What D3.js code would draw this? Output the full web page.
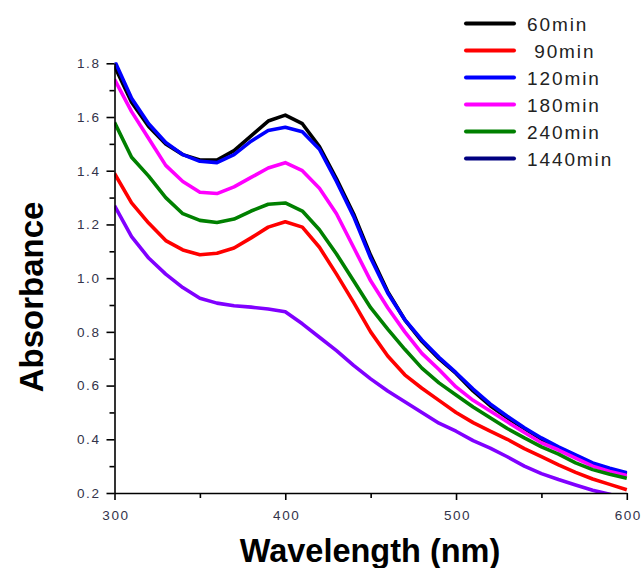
<!DOCTYPE html>
<html>
<head>
<meta charset="utf-8">
<script src="https://cdn.jsdelivr.net/npm/d3@7"></script>
<style>
  body { margin: 0; background: #fff; }
  svg { display: block; font-family: "Liberation Sans", Arial, sans-serif; }
</style>
</head>
<body>
<svg id="chart" width="641" height="568"></svg>
<script>
// wavelength grid (nm)
var wavelengths = [300,310,320,330,340,350,360,370,380,390,400,410,420,430,440,450,
                   460,470,480,490,500,510,520,530,540,550,560,570,580,590,600];

// absorbance, one array per sampling time
var abs60   = [1.79,1.655,1.565,1.50,1.46,1.44,1.44,1.475,1.53,1.585,1.607,1.575,1.49,1.37,1.24,1.085,
               0.95,0.845,0.765,0.70,0.645,0.58,0.525,0.48,0.44,0.40,0.368,0.338,0.308,0.288,0.27];
var abs90   = [1.39,1.28,1.205,1.14,1.105,1.087,1.093,1.112,1.15,1.19,1.21,1.19,1.115,1.015,0.91,0.80,
               0.71,0.64,0.59,0.545,0.50,0.462,0.43,0.40,0.365,0.335,0.305,0.277,0.252,0.232,0.212];
var abs120  = [1.81,1.67,1.575,1.505,1.46,1.435,1.43,1.46,1.51,1.55,1.562,1.545,1.48,1.36,1.23,1.075,
               0.945,0.845,0.77,0.705,0.648,0.587,0.532,0.486,0.443,0.405,0.372,0.342,0.312,0.292,0.275];
var abs180  = [1.74,1.62,1.52,1.42,1.36,1.32,1.315,1.34,1.375,1.41,1.43,1.40,1.335,1.24,1.115,0.99,
               0.89,0.80,0.72,0.66,0.595,0.545,0.505,0.465,0.425,0.387,0.36,0.33,0.30,0.28,0.265];
var abs240  = [1.58,1.45,1.38,1.30,1.24,1.215,1.207,1.22,1.25,1.275,1.28,1.25,1.18,1.09,0.99,0.89,
               0.81,0.735,0.665,0.61,0.565,0.52,0.48,0.44,0.405,0.372,0.345,0.312,0.287,0.27,0.255];
var abs1440 = [1.27,1.155,1.075,1.015,0.965,0.925,0.907,0.897,0.892,0.885,0.875,0.83,0.78,0.73,0.675,0.625,
               0.58,0.54,0.50,0.46,0.43,0.395,0.367,0.335,0.30,0.272,0.25,0.23,0.21,0.195,0.18];

var seriesNames  = ["60min"," 90min","120min","180min","240min","1440min"];
var seriesValues = [abs60, abs90, abs120, abs180, abs240, abs1440];
var lineColors   = ["#000000","#ff0000","#0000ff","#ff00ff","#008000","#8000ff"];
var legendColors = ["#000000","#ff0000","#0000ff","#ff00ff","#008000","#000080"];

var xMajor = [300,400,500,600], xMinor = [350,450,550];
var yMajor = [0.2,0.4,0.6,0.8,1.0,1.2,1.4,1.6,1.8], yMinor = [0.3,0.5,0.7,0.9,1.1,1.3,1.5,1.7];

var svg = d3.select("#chart");
var plotL = 114.5, plotR = 626.8, plotT = 63.3, plotB = 493;

var x = d3.scaleLinear().domain([300,600]).range([plotL,plotR]);
var y = d3.scaleLinear().domain([0.2,1.8]).range([plotB,plotT]);

// clip region for curves
svg.append("defs").append("clipPath").attr("id","plotclip")
   .append("rect").attr("x",plotL).attr("y",plotT-1).attr("width",plotR-plotL+4).attr("height",plotB-plotT+1);

var line = d3.line()
    .x(function(d){return x(d[0]);})
    .y(function(d){return y(d[1]);});

var curves = svg.append("g").attr("clip-path","url(#plotclip)");
seriesValues.forEach(function(vals,i){
    var pts = wavelengths.map(function(w,j){return [w, vals[j]];});
    curves.append("path")
          .attr("d", line(pts))
          .attr("fill","none")
          .attr("stroke", lineColors[i])
          .attr("stroke-width",3.6)
          .attr("stroke-linejoin","round");
});

// axes
var tickColor = "#33334a";
function styleAxis(g){
    g.selectAll("path.domain").attr("stroke","#000").attr("stroke-width",1.6);
    g.selectAll(".tick line").attr("stroke","#000").attr("stroke-width",1.6);
}

var xAxisMinor = svg.append("g").attr("transform","translate(0,"+plotB+")")
    .call(d3.axisBottom(x).tickValues(xMinor).tickSize(5).tickFormat(""));
var xAxis = svg.append("g").attr("transform","translate(0,"+plotB+")")
    .call(d3.axisBottom(x).tickValues(xMajor).tickSize(7).tickSizeOuter(0).tickFormat(d3.format("d")));
styleAxis(xAxisMinor); styleAxis(xAxis);
xAxis.selectAll("text").attr("fill",tickColor).attr("font-size",13.5)
     .attr("letter-spacing",1.6).attr("dy",0).attr("y",27).attr("dx",1)
     .attr("font-family","'Liberation Sans', Arial, sans-serif");

var yAxisMinor = svg.append("g").attr("transform","translate("+plotL+",0)")
    .call(d3.axisLeft(y).tickValues(yMinor).tickSize(5).tickFormat(""));
var yAxis = svg.append("g").attr("transform","translate("+plotL+",0)")
    .call(d3.axisLeft(y).tickValues(yMajor).tickSize(8).tickSizeOuter(0).tickFormat(d3.format(".1f")));
styleAxis(yAxisMinor); styleAxis(yAxis);
yAxis.selectAll("text").attr("fill",tickColor).attr("font-size",13.5)
     .attr("letter-spacing",1.6).attr("x",-14)
     .attr("font-family","'Liberation Sans', Arial, sans-serif");
xAxisMinor.select("path.domain").remove();
yAxisMinor.select("path.domain").remove();

// axis titles
svg.append("text")
   .attr("x",370).attr("y",562)
   .attr("text-anchor","middle")
   .attr("font-size",32.5).attr("font-weight","bold")
   .text("Wavelength (nm)");
svg.append("text")
   .attr("transform","translate(43,297) rotate(-90)")
   .attr("text-anchor","middle")
   .attr("font-size",33).attr("font-weight","bold")
   .text("Absorbance");

// legend
var legend = svg.append("g");
seriesNames.forEach(function(name,i){
    var ly = 23.5 + i*27;
    legend.append("line")
          .attr("x1",466).attr("x2",514).attr("y1",ly).attr("y2",ly)
          .attr("stroke",legendColors[i]).attr("stroke-width",4)
          .attr("stroke-linecap","round");
    legend.append("text")
          .attr("x",527).attr("y",ly+7)
          .attr("font-size",19).attr("letter-spacing",1.9)
          .attr("fill","#222")
          .style("white-space","pre")
          .text(name);
});
</script>
</body>
</html>
